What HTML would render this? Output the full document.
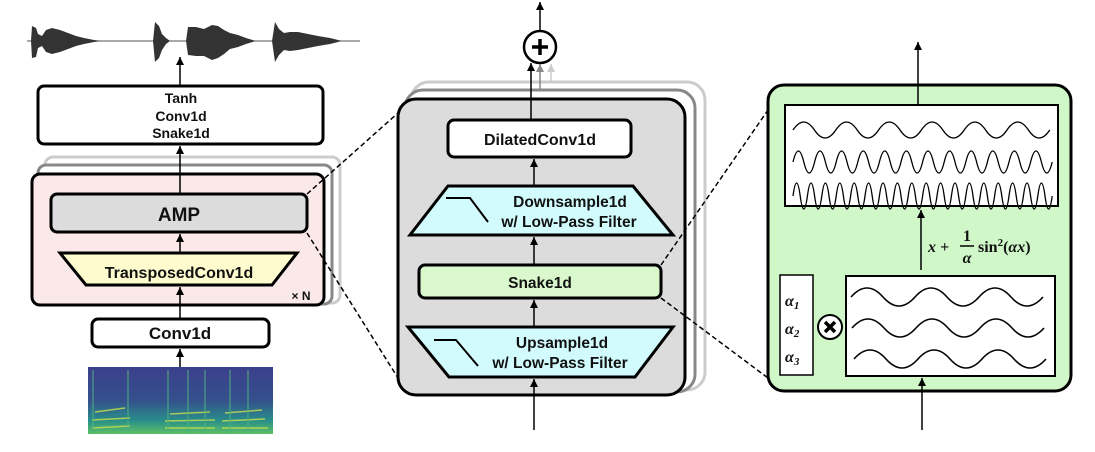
<!DOCTYPE html>
<html><head><meta charset="utf-8"><style>
html,body{margin:0;padding:0;background:#fff;width:1095px;height:452px;overflow:hidden}
text{font-family:"Liberation Sans",sans-serif;font-weight:bold;fill:#111}
</style></head><body>
<svg width="1095" height="452" viewBox="0 0 1095 452" xmlns="http://www.w3.org/2000/svg">
<defs>
<marker id="ah" markerWidth="8" markerHeight="8" refX="8" refY="4" orient="auto" markerUnits="userSpaceOnUse">
<path d="M0,0 L8,4 L0,8 Z" fill="#000"/></marker>
<marker id="ahg" markerWidth="8" markerHeight="8" refX="8" refY="4" orient="auto" markerUnits="userSpaceOnUse"><path d="M0,0 L8,4 L0,8 Z" fill="#888"/></marker>
<marker id="ahl" markerWidth="8" markerHeight="8" refX="8" refY="4" orient="auto" markerUnits="userSpaceOnUse"><path d="M0,0 L8,4 L0,8 Z" fill="#ccc"/></marker>
<linearGradient id="spg" x1="0" y1="0" x2="0" y2="1">
<stop offset="0" stop-color="#3b3f8c"/><stop offset="0.5" stop-color="#35508d"/><stop offset="0.8" stop-color="#2a8f8a"/><stop offset="1" stop-color="#5cc065"/></linearGradient>
</defs>

<!-- waveform -->
<line x1="27" y1="41" x2="360" y2="41" stroke="#555" stroke-width="1"/>
<g fill="#333">
<path d="M31,41 L32,26 L36,28 L38,34 L42,36 L46,30 L52,28 L60,30 L68,33 L76,36 L84,38 L94,40 L102,41 L94,42 L84,44 L76,46 L68,49 L60,52 L52,54 L46,52 L42,46 L38,48 L36,57 L32,58 Z"/>
<path d="M153,41 L155,22 L159,26 L162,34 L166,38 L170,41 L166,44 L162,50 L159,58 L155,62 Z"/>
<path d="M186,41 L188,27 L196,27 L204,29 L212,25 L218,26 L224,30 L230,33 L238,35 L246,38 L256,41 L246,44 L238,47 L230,49 L224,54 L218,58 L212,60 L204,56 L196,56 L188,55 Z"/>
<path d="M272,41 L275,22 L279,29 L284,33 L290,32 L298,32 L308,34 L318,36 L330,38 L342,41 L330,44 L318,46 L308,48 L298,50 L290,51 L284,50 L279,55 L275,62 Z"/>
</g>
<line x1="180" y1="86" x2="180" y2="57" stroke="#000" stroke-width="1.5" marker-end="url(#ah)"/>

<!-- top box -->
<rect x="38" y="86" width="285" height="58" rx="6" fill="#fff" stroke="#000" stroke-width="3"/>
<text x="181" y="103" font-size="14" text-anchor="middle">Tanh</text>
<text x="181" y="121" font-size="14" text-anchor="middle">Conv1d</text>
<text x="181" y="138" font-size="14" text-anchor="middle">Snake1d</text>

<!-- red panel stack -->
<rect x="45" y="157" width="295" height="146" rx="8" fill="#fff" stroke="#ccc" stroke-width="3"/>
<rect x="38" y="165" width="294" height="139" rx="8" fill="#fff" stroke="#888" stroke-width="3"/>
<rect x="32" y="174" width="292" height="131" rx="8" fill="#fbe9e9" stroke="#000" stroke-width="3"/>
<rect x="51" y="194" width="256" height="38" rx="6" fill="#dcdcdc" stroke="#000" stroke-width="3"/>
<text x="179" y="221" font-size="19" text-anchor="middle">AMP</text>
<polygon points="60,253 297,253 272,285 86,285" fill="#fefccf" stroke="#000" stroke-width="3"/>
<text x="179" y="278" font-size="16" text-anchor="middle">TransposedConv1d</text>
<text x="301" y="300" font-size="12" text-anchor="middle">× N</text>
<line x1="180" y1="194" x2="180" y2="146" stroke="#000" stroke-width="1.5" marker-end="url(#ah)"/>
<line x1="180" y1="253" x2="180" y2="234" stroke="#000" stroke-width="1.5" marker-end="url(#ah)"/>
<line x1="180" y1="319" x2="180" y2="287" stroke="#000" stroke-width="1.5" marker-end="url(#ah)"/>
<line x1="180" y1="367" x2="180" y2="349" stroke="#000" stroke-width="1.5" marker-end="url(#ah)"/>

<rect x="92" y="319" width="177" height="28" rx="6" fill="#fff" stroke="#000" stroke-width="3"/>
<text x="180" y="339" font-size="17" text-anchor="middle">Conv1d</text>

<!-- spectrogram -->
<rect x="88" y="367" width="185" height="67" fill="url(#spg)"/>
<g stroke="#c8e04a" stroke-width="1.5" opacity="0.8">
<line x1="92" y1="428" x2="130" y2="426"/><line x1="92" y1="420" x2="130" y2="418"/><line x1="95" y1="412" x2="125" y2="408"/>
<line x1="165" y1="428" x2="215" y2="428"/><line x1="165" y1="421" x2="215" y2="420"/><line x1="170" y1="414" x2="210" y2="412"/>
<line x1="222" y1="428" x2="268" y2="428"/><line x1="222" y1="421" x2="265" y2="419"/><line x1="225" y1="413" x2="262" y2="410"/>
</g>
<g stroke="#4db27f" stroke-width="2" opacity="0.5">
<line x1="93" y1="370" x2="93" y2="434"/><line x1="128" y1="370" x2="128" y2="434"/><line x1="168" y1="370" x2="168" y2="434"/><line x1="188" y1="370" x2="188" y2="434"/><line x1="205" y1="370" x2="205" y2="434"/><line x1="230" y1="370" x2="230" y2="434"/><line x1="248" y1="370" x2="248" y2="434"/>
</g>

<!-- middle panel -->
<rect x="411" y="82" width="294" height="308" rx="18" fill="#fff" stroke="#ccc" stroke-width="3"/>
<rect x="405" y="90" width="290" height="302" rx="18" fill="#fff" stroke="#888" stroke-width="3"/>
<rect x="398" y="99" width="287" height="296" rx="18" fill="#dcdcdc" stroke="#000" stroke-width="3"/>
<line x1="540" y1="90" x2="540" y2="64" stroke="#888" stroke-width="1.5" marker-end="url(#ahg)"/>
<line x1="551" y1="82" x2="551" y2="64" stroke="#ccc" stroke-width="1.5" marker-end="url(#ahl)"/>
<line x1="531" y1="120" x2="531" y2="63" stroke="#000" stroke-width="1.5" marker-end="url(#ah)"/>
<circle cx="540" cy="47" r="16" fill="#fff" stroke="#000" stroke-width="2.5"/>
<path d="M540,39 V55 M532,47 H548" stroke="#000" stroke-width="3.5"/>
<line x1="540" y1="31" x2="540" y2="2" stroke="#000" stroke-width="1.5" marker-end="url(#ah)"/>

<rect x="448" y="120" width="183" height="37" rx="6" fill="#fff" stroke="#000" stroke-width="3"/>
<text x="540" y="145" font-size="16" text-anchor="middle">DilatedConv1d</text>
<polygon points="448,186 633,186 673,235 410,235" fill="#d2fbfd" stroke="#000" stroke-width="3"/>
<path d="M446,198 H470 L488,222" stroke="#000" stroke-width="2" fill="none"/>
<text x="570" y="207" font-size="15.5" text-anchor="middle">Downsample1d</text>
<text x="569" y="227" font-size="15.5" text-anchor="middle">w/ Low-Pass Filter</text>
<rect x="419" y="265" width="242" height="33" rx="6" fill="#d9f8cc" stroke="#000" stroke-width="3"/>
<text x="540" y="288" font-size="15.5" text-anchor="middle">Snake1d</text>
<polygon points="408,327 673,327 635,377 449,377" fill="#d2fbfd" stroke="#000" stroke-width="3"/>
<path d="M434,340 H456 L478,366" stroke="#000" stroke-width="2" fill="none"/>
<text x="562" y="348" font-size="15.5" text-anchor="middle">Upsample1d</text>
<text x="560" y="368" font-size="15.5" text-anchor="middle">w/ Low-Pass Filter</text>
<line x1="534" y1="186" x2="534" y2="159" stroke="#000" stroke-width="1.5" marker-end="url(#ah)"/>
<line x1="534" y1="265" x2="534" y2="237" stroke="#000" stroke-width="1.5" marker-end="url(#ah)"/>
<line x1="534" y1="327" x2="534" y2="300" stroke="#000" stroke-width="1.5" marker-end="url(#ah)"/>
<line x1="534" y1="430" x2="534" y2="379" stroke="#000" stroke-width="1.5" marker-end="url(#ah)"/>

<!-- right panel -->
<rect x="768" y="85" width="303" height="306" rx="16" fill="#cff7c8" stroke="#000" stroke-width="3"/>
<line x1="918" y1="105" x2="918" y2="42" stroke="#000" stroke-width="1.5" marker-end="url(#ah)"/>
<rect x="785" y="105" width="273" height="101" fill="#fff" stroke="#000" stroke-width="2"/>
<g fill="none" stroke="#000" stroke-width="1.3">
<path d="M793,130 q10.7,-16 21.4,0 t21.4,0 t21.4,0 t21.4,0 t21.4,0 t21.4,0 t21.4,0 t21.4,0 t21.4,0 t21.4,0 t21.4,0 t21.4,0"/>
<path d="M793,162 q5.4,-22 10.8,0 t10.8,0 t10.8,0 t10.8,0 t10.8,0 t10.8,0 t10.8,0 t10.8,0 t10.8,0 t10.8,0 t10.8,0 t10.8,0 t10.8,0 t10.8,0 t10.8,0 t10.8,0 t10.8,0 t10.8,0 t10.8,0 t10.8,0 t10.8,0 t10.8,0 t10.8,0 t10.8,0"/>
<path d="M793,196 q3.6,-26 7.2,0 t7.2,0 t7.2,0 t7.2,0 t7.2,0 t7.2,0 t7.2,0 t7.2,0 t7.2,0 t7.2,0 t7.2,0 t7.2,0 t7.2,0 t7.2,0 t7.2,0 t7.2,0 t7.2,0 t7.2,0 t7.2,0 t7.2,0 t7.2,0 t7.2,0 t7.2,0 t7.2,0 t7.2,0 t7.2,0 t7.2,0 t7.2,0 t7.2,0 t7.2,0 t7.2,0 t7.2,0 t7.2,0 t7.2,0 t7.2,0 t7.2,0"/>
</g>
<line x1="921" y1="270" x2="921" y2="210" stroke="#000" stroke-width="1.5" marker-end="url(#ah)"/>
<text x="928" y="252" font-size="16" font-style="italic" style="font-family:'Liberation Serif',serif">x +</text>
<text x="967" y="241" font-size="16" text-anchor="middle" style="font-family:'Liberation Serif',serif">1</text>
<line x1="960" y1="246" x2="974" y2="246" stroke="#000" stroke-width="1.5"/>
<text x="967" y="263" font-size="16" font-style="italic" text-anchor="middle" style="font-family:'Liberation Serif',serif">α</text>
<text x="978" y="252" font-size="16" style="font-family:'Liberation Serif',serif">sin<tspan font-size="11" dy="-6">2</tspan><tspan dy="6">(</tspan><tspan font-style="italic">αx</tspan>)</text>
<rect x="780" y="275" width="33" height="100" fill="#fff" stroke="#000" stroke-width="1.5"/>
<text x="785" y="306" font-size="16" font-style="italic" style="font-family:'Liberation Serif',serif">α<tspan font-size="11" dy="3">1</tspan></text>
<text x="785" y="334" font-size="16" font-style="italic" style="font-family:'Liberation Serif',serif">α<tspan font-size="11" dy="3">2</tspan></text>
<text x="785" y="362" font-size="16" font-style="italic" style="font-family:'Liberation Serif',serif">α<tspan font-size="11" dy="3">3</tspan></text>
<circle cx="830" cy="327" r="12" fill="#fff" stroke="#000" stroke-width="2"/>
<path d="M825,322 L835,332 M835,322 L825,332" stroke="#000" stroke-width="3.5"/>
<rect x="846" y="276" width="209" height="100" fill="#fff" stroke="#000" stroke-width="2"/>
<g fill="none" stroke="#000" stroke-width="1.6">
<path d="M851,297 q16,-18 32,0 t32,0 t32,0 t32,0 t32,0 t32,0"/>
<path d="M852,328 q16,-18 32,0 t32,0 t32,0 t32,0 t32,0 t32,0"/>
<path d="M854,359 q16,-18 32,0 t32,0 t32,0 t32,0 t32,0 t32,0"/>
</g>
<line x1="922" y1="430" x2="922" y2="378" stroke="#000" stroke-width="1.5" marker-end="url(#ah)"/>

<!-- dashed connectors (on top) -->
<g stroke="#000" stroke-width="1.5" stroke-dasharray="5,3" fill="none">
<line x1="307" y1="194" x2="398" y2="113"/>
<line x1="307" y1="233" x2="398" y2="378"/>
<line x1="661" y1="265" x2="768" y2="110"/>
<line x1="661" y1="298" x2="768" y2="378"/>
</g>
</svg>
</body></html>
